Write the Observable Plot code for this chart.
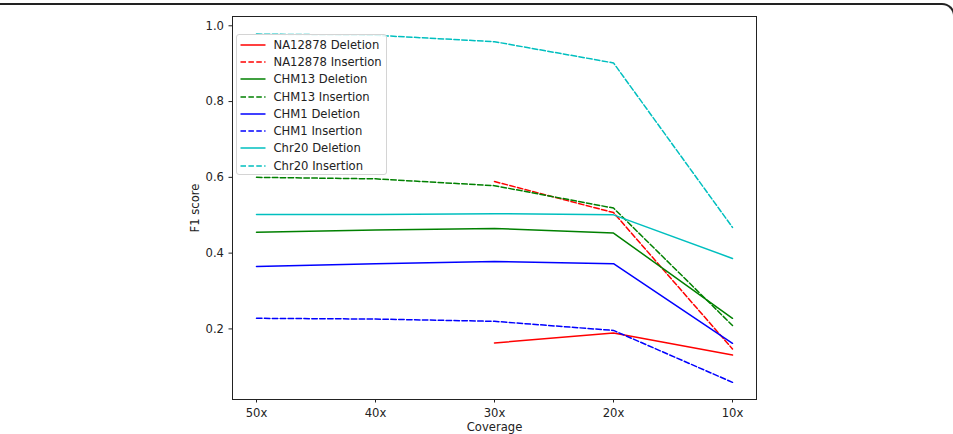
<!DOCTYPE html>
<html>
<head>
<meta charset="utf-8">
<script src="https://cdn.jsdelivr.net/npm/d3@7"></script>
<script src="https://cdn.jsdelivr.net/npm/@observablehq/plot@0.6"></script>
<style>
  html, body { margin: 0; padding: 0; background: #fff; }
  #wrap { position: relative; width: 953px; height: 434px; overflow: hidden; font-family: "DejaVu Sans", sans-serif; }
  #outer { position: absolute; left: -6px; top: 3px; width: 961px; height: 520px; box-sizing: border-box;
           border-top: 2px solid #222; border-right: 2px solid #222; border-top-right-radius: 13px; pointer-events: none; }
  #legend { position: absolute; left: 235.5px; top: 34px; width: 151px; height: 141px; box-sizing: border-box;
            border: 1px solid #d4d4d4; border-radius: 3px; background: rgba(255,255,255,0.85); }
  .entry { position: absolute; left: 0; height: 14px; width: 150px; }
  .entry svg { position: absolute; left: 3px; top: 0; }
  .entry span { position: absolute; left: 37px; top: 0; font-size: 11.6px; line-height: 14px; color: #222; white-space: nowrap; }
</style>
</head>
<body>
<div id="wrap">
  <div id="chart"></div>
  <div id="legend"></div>
  <div id="outer"></div>
</div>
<script>
const coverage = ["50x", "40x", "30x", "20x", "10x"];
const seriesNames = [
  "NA12878 Deletion", "NA12878 Insertion",
  "CHM13 Deletion", "CHM13 Insertion",
  "CHM1 Deletion", "CHM1 Insertion",
  "Chr20 Deletion", "Chr20 Insertion"
];
const seriesColors = ["#ff0000", "#ff0000", "#008000", "#008000", "#0000ff", "#0000ff", "#00bfbf", "#00bfbf"];
const seriesDashed = [false, true, false, true, false, true, false, true];

const na12878Deletion  = [null, null, 0.163, 0.189, 0.131];
const na12878Insertion = [null, null, 0.589, 0.507, 0.147];
const chm13Deletion    = [0.455, 0.461, 0.465, 0.453, 0.228];
const chm13Insertion   = [0.600, 0.596, 0.578, 0.519, 0.209];
const chm1Deletion     = [0.365, 0.372, 0.378, 0.372, 0.162];
const chm1Insertion    = [0.228, 0.226, 0.220, 0.196, 0.059];
const chr20Deletion    = [0.502, 0.502, 0.504, 0.501, 0.386];
const chr20Insertion   = [0.978, 0.975, 0.958, 0.902, 0.468];

const yTicks = [0.2, 0.4, 0.6, 0.8, 1.0];

const seriesValues = [
  na12878Deletion, na12878Insertion, chm13Deletion, chm13Insertion,
  chm1Deletion, chm1Insertion, chr20Deletion, chr20Insertion
];

const dash = "5.5,2.4";
const lineMarks = seriesNames.map((name, i) => {
  const rows = coverage.map((c, j) => ({coverage: c, value: seriesValues[i][j], series: name}));
  return Plot.line(rows, {
    x: "coverage", y: "value",
    stroke: seriesColors[i], strokeWidth: 1.5,
    strokeDasharray: seriesDashed[i] ? dash : null
  });
});

const chart = Plot.plot({
  width: 953,
  height: 434,
  marginLeft: 232,
  marginRight: 197,
  marginTop: 16,
  marginBottom: 35,
  style: {fontFamily: "DejaVu Sans, sans-serif", fontSize: "11.6px", color: "#222", background: "#fff"},
  x: {type: "point", domain: coverage, padding: 0.2, label: null, tickSize: 3.5, tickPadding: 5.5},
  y: {domain: [0.0137, 1.0245], ticks: yTicks, tickFormat: d3.format(".1f"), label: null, tickSize: 3.5, tickPadding: 5},
  marks: [
    ...lineMarks,
    Plot.frame({stroke: "#222", strokeWidth: 1}),
    Plot.text(["F1 score"], {frameAnchor: "left", dx: -37, rotate: -90, textAnchor: "middle", lineAnchor: "middle", fontSize: 11.6, fill: "#222"}),
    Plot.text(["Coverage"], {frameAnchor: "bottom", dy: 28, textAnchor: "middle", lineAnchor: "middle", fontSize: 11.6, fill: "#222"})
  ]
});
document.getElementById("chart").appendChild(chart);

const legend = document.getElementById("legend");
seriesNames.forEach((name, i) => {
  const e = document.createElement("div");
  e.className = "entry";
  e.style.top = (2.7 + i * 17.28) + "px";
  e.innerHTML = `<svg width="28" height="14"><line x1="0.5" x2="25.5" y1="7" y2="7" stroke="${seriesColors[i]}" stroke-width="1.5" ${seriesDashed[i] ? `stroke-dasharray="${dash}"` : ""}/></svg><span>${name}</span>`;
  legend.appendChild(e);
});
</script>
</body>
</html>
